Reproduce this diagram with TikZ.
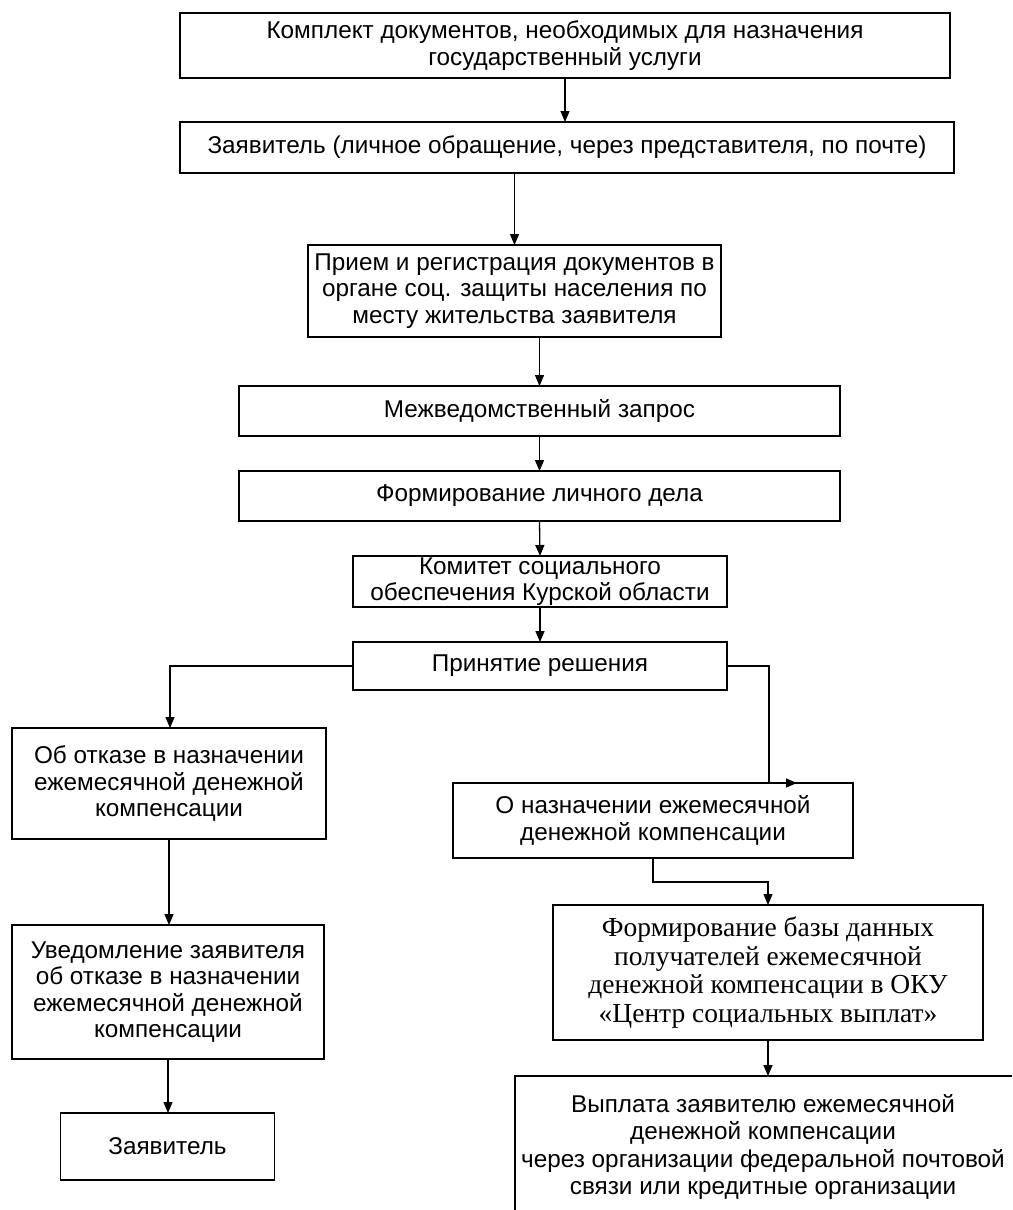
\documentclass[tikz,border=0pt]{standalone}
\usepackage{fontspec}
\setmainfont{Liberation Sans}
\newfontfamily\seriff{Liberation Serif}
\usetikzlibrary{arrows.meta,calc}
\begin{document}
\begin{tikzpicture}[x=1pt,y=-1pt,
  every node/.style={inner sep=0pt,outer sep=0pt},
  box/.style={draw,line width=1.4pt,rectangle,align=center,
    font=\fontsize{24.3}{26.5}\selectfont},
  sbox/.style={draw,line width=1.4pt,rectangle,align=center,
    font=\seriff\fontsize{27.5}{28.5}\selectfont},
  plain/.style={align=center,font=\fontsize{24.3}{27.5}\selectfont},
  arr/.style={line width=1.3pt,-{Triangle[length=11pt,width=9pt]}},
  ln/.style={line width=1.3pt}]
\useasboundingbox (0,0) rectangle (1012,1210);

\node[box,minimum width=770pt,minimum height=65pt] (b1) at (565,45.5)
  {Комплект документов, необходимых для назначения\\государственный услуги};
\node[box,minimum width=774pt,minimum height=51pt] (b2) at (567,147.5)
  {Заявитель (личное обращение, через представителя, по почте)};
\node[box,minimum width=413pt,minimum height=92pt] (b3) at (514.5,291)
  {Прием и регистрация документов в\\органе соц. защиты населения по\\месту жительства заявителя};
\node[box,minimum width=601pt,minimum height=50pt] (b4) at (539.5,411)
  {Межведомственный запрос};
\node[box,minimum width=601pt,minimum height=50pt] (b5) at (539.5,496)
  {Формирование личного дела};
\node[box,minimum width=374pt,minimum height=51pt] (b6) at (540,581.5)
  {Комитет социального\\обеспечения Курской области};
\node[box,minimum width=374pt,minimum height=48pt] (b7) at (540,666)
  {Принятие решения};
\node[box,minimum width=314pt,minimum height=111pt] (b8) at (169,783.5)
  {Об отказе в назначении\\ежемесячной денежной\\компенсации};
\node[box,minimum width=400pt,minimum height=75pt] (b9) at (653,820.5)
  {О назначении ежемесячной\\денежной компенсации};
\node[sbox,minimum width=430pt,minimum height=135pt] (b10) at (768,972.5)
  {Формирование базы данных\\получателей ежемесячной\\денежной компенсации в ОКУ\\«Центр социальных выплат»};
\node[plain] (b11) at (763,1147)
  {Выплата заявителю ежемесячной\\денежной компенсации\\через организации федеральной почтовой\\связи или кредитные организации};
\node[box,minimum width=312pt,minimum height=134pt] (b12) at (168,992)
  {Уведомление заявителя\\об отказе в назначении\\ежемесячной денежной\\компенсации};
\node[box,minimum width=214pt,minimum height=67pt] (b13) at (167.5,1146.5)
  {Заявитель};

% open frame of the last right box
\coordinate (b11tl) at (515,1076);
\coordinate (b11bl) at (515,1210);
\coordinate (b11tr) at (1012,1076);
\coordinate (b11top) at (768,1076);
\draw[line width=1.4pt] (b11bl) -- (b11tl) -- (b11tr);

% connectors
\draw[arr] (b1.south) -- (b1.south |- b2.north);
\draw[arr] (b2.south -| b3.north) -- (b3.north);
\draw[arr] (b4.north |- b3.south) -- (b4.north);
\draw[arr] (b4.south) -- (b5.north);
\draw[arr] (b5.south) -- (b6.north);
\draw[arr] (b6.south) -- (b7.north);
\coordinate (lb) at (170,666);
\draw[arr] (b7.west) -- (lb) -- (lb |- b8.north);
\coordinate (rb) at (769,666);
\coordinate (rbend) at (769,783);
\coordinate (rtip) at (797,783);
\draw[arr] (b7.east) -- (rb) -- (rbend) -- (rtip);
\coordinate (mb) at (653,882);
\draw[arr] (b9.south) -- (mb) -| (b10.north);
\draw[arr] (b10.south) -- (b11top);
\draw[arr] (b8.south) -- (b8.south |- b12.north);
\draw[arr] (b12.south) -- (b12.south |- b13.north);
\end{tikzpicture}
\end{document}
